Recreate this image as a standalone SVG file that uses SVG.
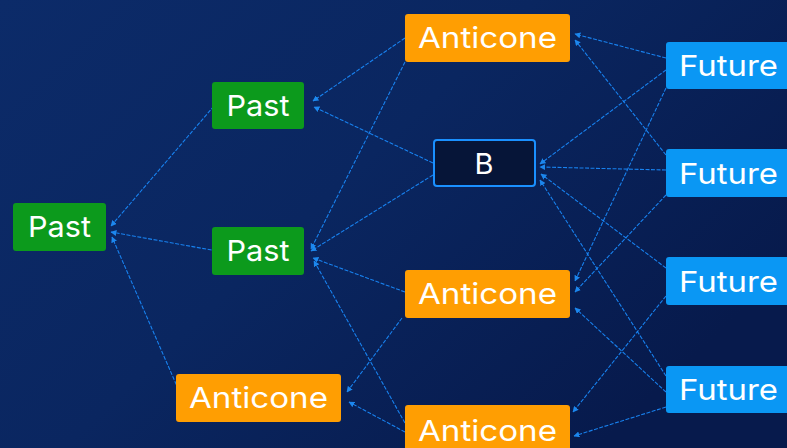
<svg xmlns="http://www.w3.org/2000/svg" width="787" height="448" viewBox="0 0 787 448">
<defs>
<linearGradient id="bg" x1="0" y1="0" x2="1" y2="0.6">
<stop offset="0" stop-color="#0c2b69"/>
<stop offset="0.5" stop-color="#0a2660"/>
<stop offset="1" stop-color="#071a4c"/>
</linearGradient>
<marker id="ah" viewBox="0 0 10 10" refX="9" refY="5" markerWidth="6" markerHeight="6" markerUnits="userSpaceOnUse" orient="auto">
<path d="M0,0 L10,5 L0,10 z" fill="#1f93ff"/>
</marker>
<style>
.e{stroke:#1a8cff;stroke-width:1.1;fill:none;stroke-dasharray:4 1.5;marker-end:url(#ah);opacity:0.9}
.t{font-family:Inter,"Open Sans","Liberation Sans",sans-serif;font-size:29px;fill:#ffffff;text-anchor:middle;font-weight:400}
.g{fill:#0c9a1c}
.o{fill:#ff9e02}
.f{fill:#0a97f4}
.b{fill:#061538;stroke:#1a90ff;stroke-width:2}
</style>
</defs>
<rect width="787" height="448" fill="url(#bg)"/>
<g id="connectors">
<line class="e" x1="214" y1="106" x2="111" y2="226"/>
<line class="e" x1="217" y1="251" x2="111" y2="232"/>
<line class="e" x1="183" y1="400" x2="112" y2="237"/>
<line class="e" x1="405" y1="38" x2="313" y2="101"/>
<line class="e" x1="433" y1="163" x2="314" y2="107"/>
<line class="e" x1="405" y1="62" x2="311" y2="249"/>
<line class="e" x1="433" y1="175" x2="311" y2="251"/>
<line class="e" x1="405" y1="292" x2="313" y2="258"/>
<line class="e" x1="405" y1="423" x2="314" y2="261"/>
<line class="e" x1="402" y1="318" x2="347" y2="392"/>
<line class="e" x1="405" y1="432" x2="349" y2="402"/>
<line class="e" x1="666" y1="58" x2="575" y2="34"/>
<line class="e" x1="666" y1="155" x2="575" y2="40"/>
<line class="e" x1="666" y1="70" x2="540" y2="164"/>
<line class="e" x1="666" y1="170" x2="540" y2="167"/>
<line class="e" x1="666" y1="268" x2="541" y2="174"/>
<line class="e" x1="666" y1="376" x2="540" y2="180"/>
<line class="e" x1="666" y1="88" x2="575" y2="281"/>
<line class="e" x1="666" y1="195" x2="575" y2="292"/>
<line class="e" x1="666" y1="392" x2="575" y2="308"/>
<line class="e" x1="666" y1="296" x2="573" y2="412"/>
<line class="e" x1="666" y1="407" x2="574" y2="436"/>
</g>
<g id="past1"><rect class="g" x="13" y="203" width="93" height="48" rx="3"/><text class="t" x="59.5" y="237" textLength="63" lengthAdjust="spacingAndGlyphs">Past</text></g>
<g id="past2"><rect class="g" x="212" y="82" width="92" height="47" rx="3"/><text class="t" x="258" y="116" textLength="63" lengthAdjust="spacingAndGlyphs">Past</text></g>
<g id="past3"><rect class="g" x="212" y="227" width="92" height="48" rx="3"/><text class="t" x="258" y="261" textLength="63" lengthAdjust="spacingAndGlyphs">Past</text></g>
<g id="anticone1"><rect class="o" x="405" y="14" width="165" height="48" rx="3"/><text class="t" x="487.5" y="48" textLength="139" lengthAdjust="spacingAndGlyphs">Anticone</text></g>
<g id="anticone2"><rect class="o" x="405" y="270" width="165" height="48" rx="3"/><text class="t" x="487.5" y="304" textLength="139" lengthAdjust="spacingAndGlyphs">Anticone</text></g>
<g id="anticone3"><rect class="o" x="176" y="374" width="165" height="48" rx="3"/><text class="t" x="258.5" y="408" textLength="139" lengthAdjust="spacingAndGlyphs">Anticone</text></g>
<g id="anticone4"><rect class="o" x="405" y="405" width="165" height="50" rx="3"/><text class="t" x="487.5" y="441" textLength="139" lengthAdjust="spacingAndGlyphs">Anticone</text></g>
<g id="b"><rect class="b" x="434" y="140" width="101" height="46" rx="3"/><text class="t" x="484" y="174">B</text></g>
<g id="future1"><rect class="f" x="666" y="42" width="126" height="47" rx="3"/><text class="t" x="728.5" y="76" textLength="99" lengthAdjust="spacingAndGlyphs">Future</text></g>
<g id="future2"><rect class="f" x="666" y="149" width="126" height="48" rx="3"/><text class="t" x="728.5" y="184" textLength="99" lengthAdjust="spacingAndGlyphs">Future</text></g>
<g id="future3"><rect class="f" x="666" y="257" width="126" height="48" rx="3"/><text class="t" x="728.5" y="292" textLength="99" lengthAdjust="spacingAndGlyphs">Future</text></g>
<g id="future4"><rect class="f" x="666" y="366" width="126" height="47" rx="3"/><text class="t" x="728.5" y="400" textLength="99" lengthAdjust="spacingAndGlyphs">Future</text></g>
</svg>
